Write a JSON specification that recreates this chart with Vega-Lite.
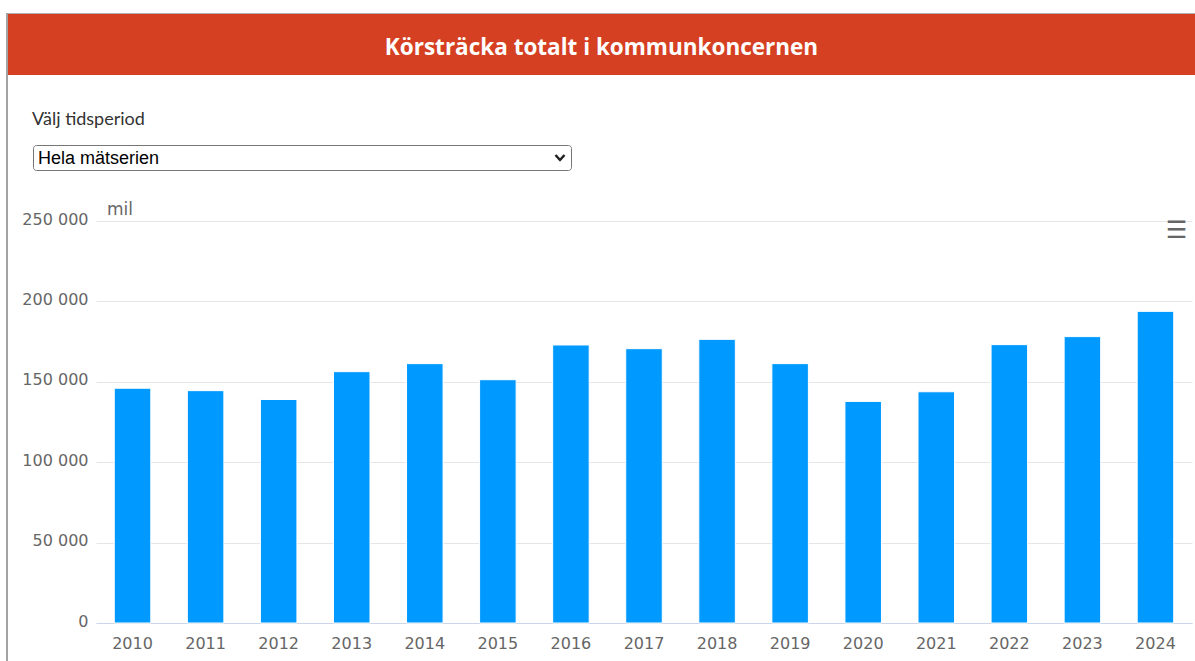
{
  "$schema": "https://vega.github.io/schema/vega-lite/v6.json",
  "background": "white",
  "padding": {"left": 6, "top": 13, "right": 0, "bottom": 0},
  "datasets": {
    "km": [
      {"year": "2010", "mil": 146000},
      {"year": "2011", "mil": 144500},
      {"year": "2012", "mil": 139000},
      {"year": "2013", "mil": 156300},
      {"year": "2014", "mil": 161300},
      {"year": "2015", "mil": 151300},
      {"year": "2016", "mil": 172900},
      {"year": "2017", "mil": 170600},
      {"year": "2018", "mil": 176400},
      {"year": "2019", "mil": 161300},
      {"year": "2020", "mil": 137800},
      {"year": "2021", "mil": 143800},
      {"year": "2022", "mil": 173100},
      {"year": "2023", "mil": 178100},
      {"year": "2024", "mil": 193800}
    ],
    "ui": [
      {"header": "Körsträcka totalt i kommunkoncernen", "label": "Välj tidsperiod", "choice": "Hela mätserien", "menu": "☰"}
    ]
  },
  "config": {
    "view": {"stroke": null},
    "locale": {"number": {"decimal": ",", "thousands": "\u00a0", "grouping": [3], "currency": ["", " kr"]}}
  },
  "spacing": 0,
  "hconcat": [
    {
      "width": 2, "height": 648,
      "data": {"name": "ui"},
      "mark": {"type": "rect", "color": "#a3a3a3"},
      "encoding": {}
    },
    {
      "spacing": 0,
      "vconcat": [
        {
          "width": 1187, "height": 1,
          "data": {"name": "ui"},
          "mark": {"type": "rect", "color": "#b0b0b0"},
          "encoding": {}
        },
        {
          "width": 1187, "height": 61,
          "data": {"name": "ui"},
          "layer": [
            {"mark": {"type": "rect", "color": "#d64022"}, "encoding": {}},
            {
              "mark": {"type": "text", "font": "Open Sans", "fontSize": 22.5, "fontWeight": "bold", "color": "#ffffff", "baseline": "middle", "dy": 3},
              "encoding": {"text": {"field": "header"}}
            }
          ]
        },
        {
          "spacing": 0,
          "hconcat": [
            {
              "width": 24, "height": 69,
              "data": {"name": "ui"},
              "mark": {"type": "rect", "opacity": 0},
              "encoding": {}
            },
            {
              "width": 400, "height": 69,
              "data": {"name": "ui"},
              "mark": {"type": "text", "font": "Lato", "fontSize": 18, "color": "#333333", "align": "left", "baseline": "alphabetic", "dy": 15.5},
              "encoding": {
                "text": {"field": "label"},
                "x": {"datum": 0, "type": "quantitative", "scale": {"domain": [0, 1]}, "axis": null}
              }
            }
          ]
        },
        {
          "spacing": 0,
          "hconcat": [
            {
              "width": 24, "height": 25,
              "data": {"name": "ui"},
              "mark": {"type": "rect", "opacity": 0},
              "encoding": {}
            },
            {
              "width": 538, "height": 25,
              "view": {"stroke": "#767676", "strokeWidth": 1, "cornerRadius": 3, "fill": "#ffffff"},
              "data": {"name": "ui"},
              "layer": [
                {
                  "mark": {"type": "text", "font": "Liberation Sans", "fontSize": 18, "color": "#000000", "align": "left", "baseline": "alphabetic", "dx": 5, "dy": 6.5},
                  "encoding": {
                    "text": {"field": "choice"},
                    "x": {"datum": 0, "type": "quantitative", "scale": {"domain": [0, 1]}, "axis": null}
                  }
                },
                {
                  "mark": {"type": "point", "shape": "M-1,-0.55L0,0.55L1,-0.55", "filled": false, "stroke": "#222222", "strokeWidth": 2.5, "size": 81, "opacity": 1},
                  "encoding": {
                    "x": {"datum": 1, "type": "quantitative", "scale": {"domain": [0, 1]}, "axis": null},
                    "xOffset": {"value": -11}
                  }
                }
              ]
            }
          ]
        },
        {
          "width": 1, "height": 29,
          "data": {"name": "ui"},
          "mark": {"type": "rect", "opacity": 0},
          "encoding": {}
        },
        {
          "spacing": 0,
          "bounds": "flush",
          "hconcat": [
            {
              "width": 87.5, "height": 1,
              "data": {"name": "ui"},
              "mark": {"type": "rect", "opacity": 0},
              "encoding": {}
            },
            {
              "width": 1096, "height": 402,
              "layer": [
                {
                  "data": {"name": "km"},
                  "mark": {"type": "bar", "color": "#0099ff", "stroke": "#ffffff", "strokeWidth": 1},
                  "encoding": {
                    "x": {
                      "field": "year", "type": "ordinal",
                      "scale": {"paddingInner": 0.5, "paddingOuter": 0.25},
                      "axis": {"title": null, "labelAngle": 0, "labelFont": "DejaVu Sans", "labelFontSize": 16, "labelColor": "#666666", "labelPadding": 12, "ticks": false, "domainColor": "#ccd6eb", "domainWidth": 1, "grid": false}
                    },
                    "y": {
                      "field": "mil", "type": "quantitative",
                      "scale": {"domain": [0, 250000], "nice": false},
                      "axis": {
                        "title": "mil", "titleAngle": 0, "titleAlign": "left", "titleBaseline": "alphabetic", "titleX": 10.5, "titleY": -6.5,
                        "titleFont": "DejaVu Sans", "titleFontSize": 17, "titleFontWeight": "normal", "titleColor": "#666666",
                        "values": [0, 50000, 100000, 150000, 200000, 250000], "format": ",d",
                        "labelFont": "DejaVu Sans", "labelFontSize": 16, "labelColor": "#666666", "labelPadding": 8, "labelOffset": -2,
                        "ticks": false, "tickSize": 0, "domain": false, "gridColor": "#e6e6e6", "gridWidth": 1
                      }
                    }
                  }
                },
                {
                  "data": {"name": "ui"},
                  "mark": {"type": "text", "font": "DejaVu Sans", "fontSize": 24, "fontWeight": "bold", "color": "#666666", "baseline": "middle", "dx": 21},
                  "encoding": {
                    "text": {"field": "menu"},
                    "x": {"datum": "2024", "type": "ordinal"},
                    "y": {"datum": 244000, "type": "quantitative"}
                  }
                }
              ]
            }
          ]
        }
      ]
    }
  ]
}
